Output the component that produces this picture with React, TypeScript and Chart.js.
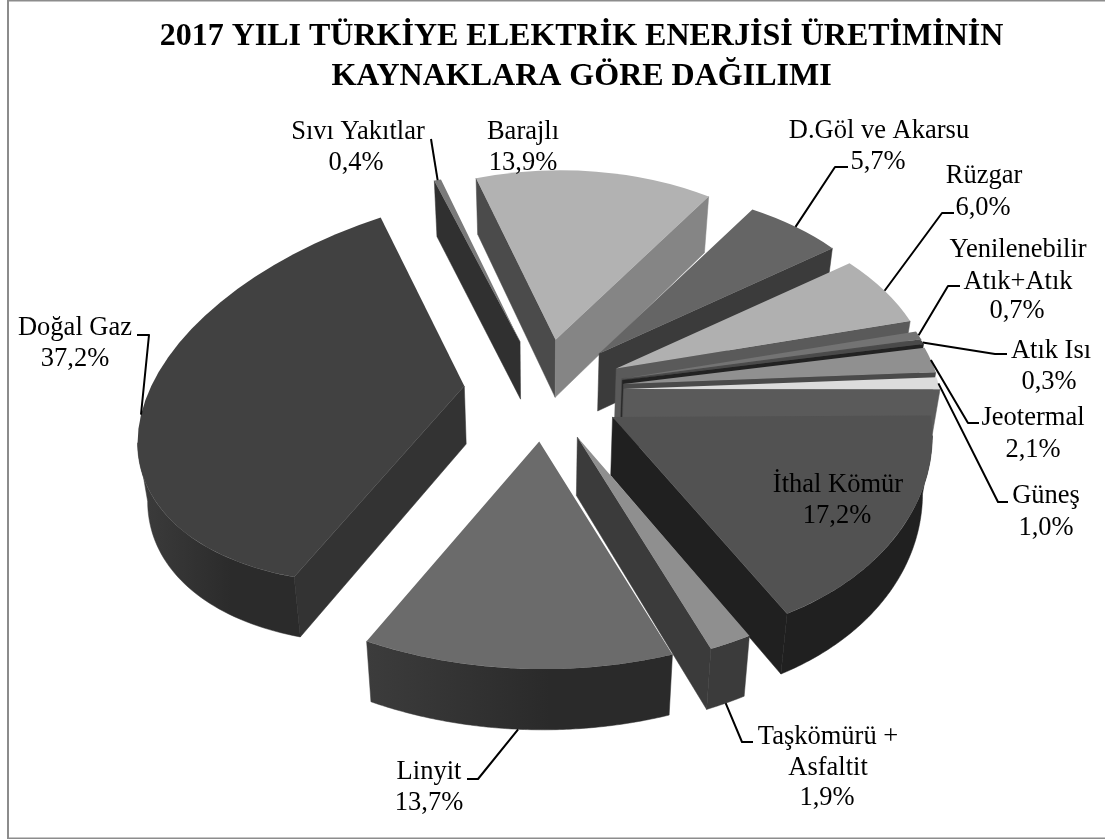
import React, { useEffect, useRef } from "react";
import { Chart, registerables } from "chart.js";

Chart.register(...registerables);

const WIDTH = 1105;
const HEIGHT = 839;

// Slices run clockwise from the top of the pie.
const sourceNames = [
  "Barajlı", "D.Göl ve Akarsu", "Rüzgar", "Yenilenebilir Atık+Atık", "Atık Isı", "Jeotermal",
  "Güneş", "İthal Kömür", "Taşkömürü + Asfaltit", "Linyit", "Doğal Gaz", "Sıvı Yakıtlar",
];
const sharePercent = [13.9, 5.7, 6.0, 0.7, 0.3, 2.1, 1.0, 17.2, 1.9, 13.7, 37.2, 0.4];
const titleLines = ["2017 YILI TÜRKİYE ELEKTRİK ENERJİSİ ÜRETİMİNİN", "KAYNAKLARA GÖRE DAĞILIMI"];

const topColors = [
  "#b2b2b2", "#656565", "#b0b0b0", "#737373", "#4a4a4a", "#909090",
  "#dcdcdc", "#525252", "#8f8f8f", "#6b6b6b", "#414141", "#7a7a7a",
];
const startWallColors = [
  "#4b4b4b", "#3b3b3b", "#5a5a5a", "#4c4c4c", "#222222", "#4a4a4a",
  "#5a5a5a", "#202020", "#3b3b3b", "#2c2c2c", "#333333", "#303030",
];
const endWallColors = [
  "#858585", "#3b3b3b", "#5a5a5a", "#4c4c4c", "#222222", "#4a4a4a",
  "#5a5a5a", "#202020", "#3b3b3b", "#2c2c2c", "#333333", "#303030",
];
const rimShades = [
  ["#555555", "#555555"], ["#3b3b3b", "#3b3b3b"], ["#5a5a5a", "#5a5a5a"], ["#4c4c4c", "#4c4c4c"],
  ["#222222", "#222222"], ["#4a4a4a", "#4a4a4a"], ["#5a5a5a", "#5a5a5a"], ["#202020", "#202020"],
  ["#3b3b3b", "#3b3b3b"], ["#3c3c3c", "#2a2a2a"], ["#3c3c3c", "#2b2b2b"], ["#303030", "#303030"],
];

// Text placement for each slice: label lines with their centre and baseline, and the leader elbows.
type Callout = { lines: [string, number, number][]; elbows: [number, number][] };
const callouts: Callout[] = [
  { lines: [["Barajlı", 523, 139], ["%", 523, 170]], elbows: [] },
  { lines: [["D.Göl ve Akarsu", 879, 138], ["%", 878, 169]], elbows: [[835, 167], [848, 167]] },
  { lines: [["Rüzgar", 984, 183], ["%", 983, 215]], elbows: [[942, 213], [954, 213]] },
  { lines: [["Yenilenebilir", 1018, 257], ["Atık+Atık", 1018, 289], ["%", 1017, 318]], elbows: [[948, 286], [960, 286]] },
  { lines: [["Atık Isı", 1051, 358], ["%", 1049, 389]], elbows: [[995, 354], [1007, 354]] },
  { lines: [["Jeotermal", 1033, 425], ["%", 1033, 457]], elbows: [[968, 423], [979, 423]] },
  { lines: [["Güneş", 1046, 503], ["%", 1046, 535]], elbows: [[998, 502], [1008, 502]] },
  { lines: [["İthal Kömür", 838, 492], ["%", 837, 523]], elbows: [] },
  { lines: [["Taşkömürü +", 828, 744], ["Asfaltit", 828, 775], ["%", 827, 805]], elbows: [[742, 742], [753, 742]] },
  { lines: [["Linyit", 429, 779], ["%", 429, 810]], elbows: [[478, 779], [467, 779]] },
  { lines: [["Doğal Gaz", 75, 335], ["%", 75, 366]], elbows: [[149, 335], [137, 335]] },
  { lines: [["Sıvı Yakıtlar", 358, 139], ["%", 356, 170]], elbows: [[431, 139]] },
];

// Projection of the tilted disc onto the page.
const PIE_CENTER = { x: 544, y: 390.5 };
const RADIUS = 316;
const TILT = 0.615;
const EXPLODE_TILT = 0.64;
const PERSPECTIVE = 0.155;
const EXPLODE = 80;
const DEPTH = 58;
const BULGE_BLEND = 0.3;

type Pt = { x: number; y: number };

const rimVector = (angle: number, radius: number): Pt => {
  const s = 1 / (1 - PERSPECTIVE * Math.sin(angle));
  return { x: radius * Math.cos(angle) * s, y: radius * TILT * Math.sin(angle) * s };
};

const apexOf = (arc: any): Pt => {
  const mid = (arc.startAngle + arc.endAngle) / 2;
  return {
    x: PIE_CENTER.x + EXPLODE * Math.cos(mid),
    y: PIE_CENTER.y + EXPLODE * EXPLODE_TILT * Math.sin(mid),
  };
};

// Each wedge gets its own affine map from the library's arc space to the page,
// fitted to the projected rim at its two corners and at its middle.
const wedgeMap = (arc: any) => {
  const a = arc.startAngle;
  const b = arc.endAngle;
  const r = arc.outerRadius;
  const m = (a + b) / 2;
  const h = (b - a) / 2;
  const d1 = rimVector(a, r);
  const d2 = rimVector(b, r);
  const dm = rimVector(m, r);
  const ub = { x: Math.cos(m), y: Math.sin(m) };
  const ud = { x: -Math.sin(m), y: Math.cos(m) };
  const c = 2 * Math.cos(h);
  const tb = {
    x: ((1 - BULGE_BLEND) * (d1.x + d2.x)) / c + BULGE_BLEND * dm.x,
    y: ((1 - BULGE_BLEND) * (d1.y + d2.y)) / c + BULGE_BLEND * dm.y,
  };
  const sn = 2 * Math.sin(h);
  const td = { x: (d2.x - d1.x) / sn, y: (d2.y - d1.y) / sn };
  return {
    m11: (tb.x * ub.x + td.x * ud.x) / r,
    m12: (tb.x * ub.y + td.x * ud.y) / r,
    m21: (tb.y * ub.x + td.y * ud.x) / r,
    m22: (tb.y * ub.y + td.y * ud.y) / r,
  };
};

const topPoint = (arc: any, angle: number): Pt => {
  const apex = apexOf(arc);
  const w = wedgeMap(arc);
  const r = arc.outerRadius;
  const lx = r * Math.cos(angle);
  const ly = r * Math.sin(angle);
  return { x: apex.x + w.m11 * lx + w.m12 * ly, y: apex.y + w.m21 * lx + w.m22 * ly };
};

// The lower face sits one depth below and draws in slightly towards the middle.
const floorPoint = (p: Pt): Pt => ({
  x: p.x - (p.x - 540) * 0.025,
  y: p.y + DEPTH + (p.y - PIE_CENTER.y) * 0.01,
});

const fillPolygon = (ctx: CanvasRenderingContext2D, pts: Pt[], fill: any) => {
  ctx.beginPath();
  pts.forEach((p, i) => (i ? ctx.lineTo(p.x, p.y) : ctx.moveTo(p.x, p.y)));
  ctx.closePath();
  ctx.fillStyle = fill;
  ctx.fill();
  ctx.strokeStyle = fill;
  ctx.lineWidth = 0.5;
  ctx.stroke();
};

const drawWalls = (ctx: CanvasRenderingContext2D, arc: any, i: number) => {
  const apex = apexOf(arc);
  const apexFloor = floorPoint(apex);
  const a = arc.startAngle;
  const b = arc.endAngle;
  const w = wedgeMap(arc);
  // A radial face shows when it turns towards the viewer.
  if (Math.cos(a) < 0) {
    const p = topPoint(arc, a);
    fillPolygon(ctx, [apex, p, floorPoint(p), apexFloor], startWallColors[i]);
  }
  if (Math.cos(b) > 0) {
    const p = topPoint(arc, b);
    fillPolygon(ctx, [apex, p, floorPoint(p), apexFloor], endWallColors[i]);
  }
  // The outer face shows along the stretch of rim that runs leftwards on the page.
  const top: Pt[] = [];
  const steps = 96;
  for (let k = 0; k <= steps; k++) {
    const t = a + ((b - a) * k) / steps;
    if (-w.m11 * Math.sin(t) + w.m12 * Math.cos(t) <= 0) top.push(topPoint(arc, t));
  }
  if (top.length > 1) {
    const xs = top.map((p) => p.x);
    const shade = ctx.createLinearGradient(Math.min(...xs), 0, Math.max(...xs), 0);
    shade.addColorStop(0, rimShades[i][0]);
    shade.addColorStop(0.6, rimShades[i][1]);
    shade.addColorStop(1, rimShades[i][1]);
    fillPolygon(ctx, [...top, ...top.map(floorPoint).reverse()], shade);
  }
};

const drawTop = (ctx: CanvasRenderingContext2D, arc: any) => {
  const apex = apexOf(arc);
  const { m11, m12, m21, m22 } = wedgeMap(arc);
  ctx.save();
  ctx.transform(
    m11, m21, m12, m22,
    apex.x - (m11 * arc.x + m12 * arc.y),
    apex.y - (m21 * arc.x + m22 * arc.y),
  );
  arc.draw(ctx);
  ctx.restore();
};

const solidPie = {
  id: "solidPie",
  beforeDatasetsDraw(chart: any) {
    const ctx: CanvasRenderingContext2D = chart.ctx;
    const arcs: any[] = chart.getDatasetMeta(0).data;
    const depthOf = (arc: any) => Math.sin((arc.startAngle + arc.endAngle) / 2);
    const order = arcs.map((_, i) => i).sort((p, q) => depthOf(arcs[p]) - depthOf(arcs[q]));
    order.forEach((i) => drawWalls(ctx, arcs[i], i));
    order.forEach((i) => drawTop(ctx, arcs[i]));
    return false;
  },
};

const frameAndLabels = {
  id: "frameAndLabels",
  beforeDraw(chart: any) {
    const ctx: CanvasRenderingContext2D = chart.ctx;
    ctx.save();
    ctx.fillStyle = "#ffffff";
    ctx.fillRect(0, 0, WIDTH, HEIGHT);
    ctx.fillStyle = "#8c8c8c";
    ctx.fillRect(7, 0, 2, HEIGHT);
    ctx.fillRect(7, 0, WIDTH - 7, 1.5);
    ctx.fillRect(7, 837.5, WIDTH - 7, 1.5);
    ctx.restore();
  },
  afterDraw(chart: any) {
    const ctx: CanvasRenderingContext2D = chart.ctx;
    const arcs: any[] = chart.getDatasetMeta(0).data;
    ctx.save();
    ctx.strokeStyle = "#000000";
    ctx.lineWidth = 2;
    ctx.lineJoin = "round";
    callouts.forEach((c, i) => {
      if (!c.elbows.length) return;
      const arc = arcs[i];
      const mid = (arc.startAngle + arc.endAngle) / 2;
      const rim = topPoint(arc, mid);
      const anchor = Math.sin(mid) > 0 ? floorPoint(rim) : rim;
      ctx.beginPath();
      ctx.moveTo(anchor.x, anchor.y);
      c.elbows.forEach(([x, y]) => ctx.lineTo(x, y));
      ctx.stroke();
    });
    ctx.fillStyle = "#000000";
    ctx.font = '26.5px "Liberation Serif"';
    ctx.textAlign = "center";
    ctx.textBaseline = "alphabetic";
    callouts.forEach((c, i) => {
      c.lines.forEach(([text, x, y]) => {
        const shown = text === "%" ? `${sharePercent[i].toFixed(1).replace(".", ",")}%` : text;
        ctx.fillText(shown, x, y);
      });
    });
    ctx.restore();
  },
};

export default function App() {
  const canvasRef = useRef<HTMLCanvasElement>(null);

  useEffect(() => {
    const chart = new Chart(canvasRef.current as HTMLCanvasElement, {
      type: "pie",
      data: {
        labels: sourceNames,
        datasets: [{ data: sharePercent, backgroundColor: topColors, borderWidth: 0 }],
      },
      options: {
        responsive: false,
        animation: false,
        events: [],
        rotation: -16.7,
        radius: RADIUS,
        layout: { padding: { left: 58 } },
        plugins: {
          legend: { display: false },
          tooltip: { enabled: false },
          title: {
            display: true,
            text: titleLines,
            color: "#000000",
            padding: { top: 17, bottom: 0 },
            font: { family: '"Liberation Serif"', size: 32, weight: "bold", lineHeight: 1.25 },
          },
        },
      },
      plugins: [frameAndLabels, solidPie],
    } as any);
    return () => chart.destroy();
  }, []);

  return (
    <canvas
      ref={canvasRef}
      width={WIDTH}
      height={HEIGHT}
      style={{ position: "absolute", left: 0, top: 0, width: WIDTH, height: HEIGHT }}
    />
  );
}
